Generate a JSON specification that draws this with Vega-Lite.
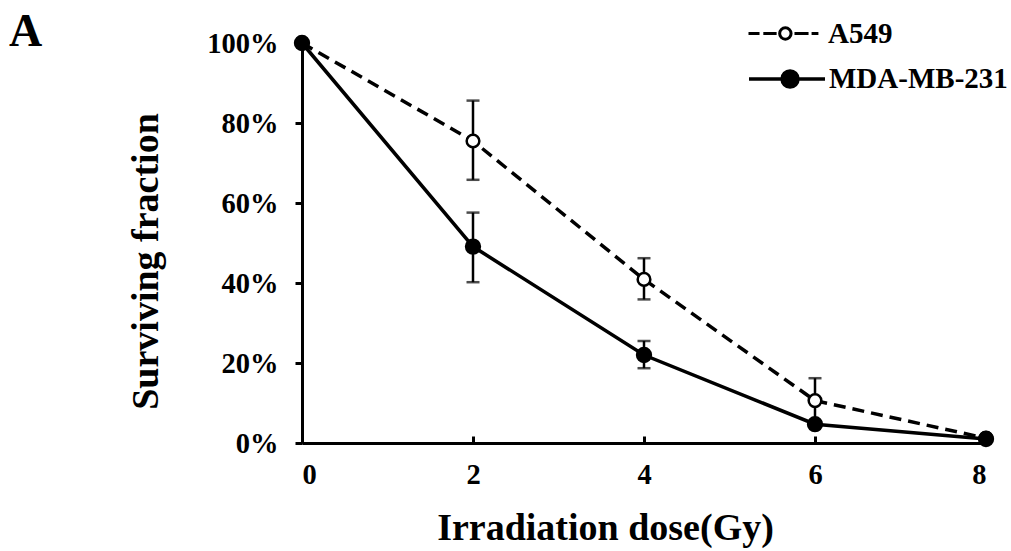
{
  "$schema": "https://vega.github.io/schema/vega-lite/v6.json",
  "autosize": "none",
  "width": 684,
  "height": 400,
  "padding": {"left": 302, "top": 43, "right": 25, "bottom": 108},
  "background": "white",
  "title": {"text": "A", "anchor": "start", "frame": "group", "dx": -293, "dy": 98, "font": "Liberation Serif", "fontSize": 46, "fontWeight": "bold", "color": "black", "baseline": "alphabetic", "offset": 0},
  "config": {
    "view": {"stroke": null},
    "font": "Liberation Serif"
  },
  "data": {"values": [
    {"series": "A549", "dose": 0, "mean": 1.0},
    {"series": "A549", "dose": 2, "mean": 0.755, "lo": 0.658, "hi": 0.856},
    {"series": "A549", "dose": 4, "mean": 0.409, "lo": 0.359, "hi": 0.462},
    {"series": "A549", "dose": 6, "mean": 0.106, "lo": 0.045, "hi": 0.162},
    {"series": "A549", "dose": 8, "mean": 0.012},
    {"series": "MDA-MB-231", "dose": 0, "mean": 1.0},
    {"series": "MDA-MB-231", "dose": 2, "mean": 0.491, "lo": 0.402, "hi": 0.576},
    {"series": "MDA-MB-231", "dose": 4, "mean": 0.22, "lo": 0.187, "hi": 0.255},
    {"series": "MDA-MB-231", "dose": 6, "mean": 0.047},
    {"series": "MDA-MB-231", "dose": 8, "mean": 0.01}
  ]},
  "encoding": {
    "x": {"field": "dose", "type": "quantitative",
      "scale": {"domain": [0, 8], "nice": false, "zero": false},
      "axis": {"values": [0, 2, 4, 6, 8], "grid": false, "domainColor": "black", "domainWidth": 3, "tickColor": "black", "tickWidth": 3, "tickSize": -7, "labelPadding": 24, "labelFont": "Liberation Serif", "labelFontSize": 28.5, "labelFontWeight": "bold", "labelColor": "black", "labelBaseline": "top",
        "title": "Irradiation dose(Gy)", "titleFont": "Liberation Serif", "titleFontSize": 38, "titleFontWeight": "bold", "titleColor": "black", "titleX": 303, "titleY": 96, "titleBaseline": "alphabetic", "titleAlign": "center"}}
  },
  "layer": [
    {
      "mark": {"type": "rule", "color": "black", "strokeWidth": 2.5},
      "encoding": {
        "y": {"field": "lo", "type": "quantitative"},
        "y2": {"field": "hi"}
      }
    },
    {
      "mark": {"type": "tick", "orient": "horizontal", "color": "black", "size": 13, "thickness": 2.5},
      "encoding": {"y": {"field": "lo", "type": "quantitative"}}
    },
    {
      "mark": {"type": "tick", "orient": "horizontal", "color": "black", "size": 13, "thickness": 2.5},
      "encoding": {"y": {"field": "hi", "type": "quantitative"}}
    },
    {
      "transform": [{"filter": "datum.series === 'A549'"}],
      "mark": {"type": "line", "color": "black", "strokeWidth": 3.5, "strokeDash": [12, 7]},
      "encoding": {
        "y": {"field": "mean", "type": "quantitative",
          "scale": {"domain": [0, 1], "nice": false},
          "axis": {"values": [0, 0.2, 0.4, 0.6, 0.8, 1.0], "format": ".0%", "grid": false, "domainColor": "black", "domainWidth": 3, "tickColor": "black", "tickWidth": 3, "tickSize": 7, "labelPadding": 17, "labelFont": "Liberation Serif", "labelFontSize": 28.5, "labelFontWeight": "bold", "labelColor": "black",
            "title": "Surviving fraction", "titleFont": "Liberation Serif", "titleFontSize": 38, "titleFontWeight": "bold", "titleColor": "black", "titleX": -145, "titleY": 218, "titleBaseline": "alphabetic", "titleAlign": "center", "titleAngle": -90}}
      }
    },
    {
      "transform": [{"filter": "datum.series === 'MDA-MB-231'"}],
      "mark": {"type": "line", "color": "black", "strokeWidth": 3.5},
      "encoding": {
        "y": {"field": "mean", "type": "quantitative"}
      }
    },
    {
      "transform": [{"filter": "datum.series === 'A549'"}],
      "mark": {"type": "point", "filled": true, "stroke": "black", "strokeWidth": 2.5, "opacity": 1, "size": 160},
      "encoding": {
        "y": {"field": "mean", "type": "quantitative"},
        "fill": {"field": "series", "type": "nominal", "scale": {"domain": ["A549"], "range": ["white"]},
          "legend": {"title": null, "orient": "none", "legendX": 445, "legendY": -49, "padding": 0, "symbolSize": 5776, "symbolStrokeWidth": 3, "symbolStrokeColor": "black",
            "symbolType": "M-1,0H-0.71M-0.61,0H-0.26M0.21,0H0.58M0.66,0H0.84M0.12,0A0.15,0.15 0 1,1 -0.18,0A0.15,0.15 0 1,1 0.12,0Z",
            "labelFont": "Liberation Serif", "labelFontSize": 29, "labelFontWeight": "bold", "labelColor": "black", "labelOffset": 2, "labelLimit": 300}}
      }
    },
    {
      "transform": [{"filter": "datum.series === 'MDA-MB-231'"}],
      "mark": {"type": "point", "filled": true, "fill": "black", "strokeWidth": 3.5, "opacity": 1, "size": 165},
      "encoding": {
        "y": {"field": "mean", "type": "quantitative"},
        "stroke": {"field": "series", "type": "nominal", "scale": {"domain": ["MDA-MB-231"], "range": ["black"]},
          "legend": {"title": null, "orient": "none", "legendX": 445, "legendY": -4, "padding": 0, "symbolSize": 5776, "symbolStrokeWidth": 3.5, "symbolFillColor": "black",
            "symbolType": "M-1,0H1M0.29,0A0.21,0.21 0 1,1 -0.13,0A0.21,0.21 0 1,1 0.29,0Z",
            "labelFont": "Liberation Serif", "labelFontSize": 29, "labelFontWeight": "bold", "labelColor": "black", "labelOffset": 2, "labelLimit": 300}}
      }
    }
  ]
}
